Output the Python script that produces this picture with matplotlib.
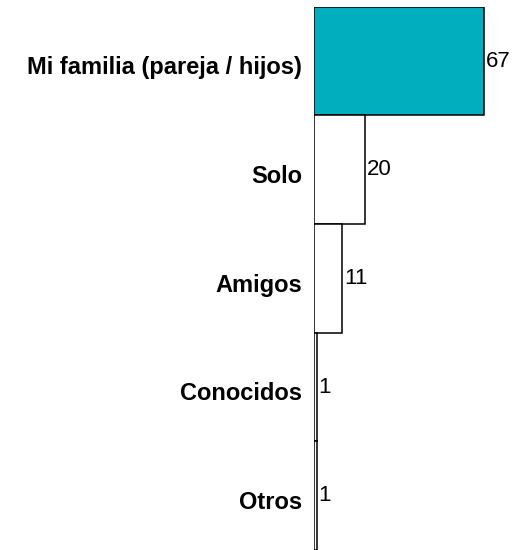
import matplotlib.pyplot as plt

plt.rcParams['font.family'] = ['Liberation Sans', 'DejaVu Sans']

categorias = ["Mi familia (pareja / hijos)", "Solo", "Amigos", "Conocidos", "Otros"]
valores = [67, 20, 11, 1, 1]
colores = ["#00AEBE", "white", "white", "white", "white"]

fig = plt.figure(figsize=(5.13, 5.5), dpi=100)
ax = fig.add_axes([0.6127, 0.0, 0.3873, 0.9878])

pos = list(range(len(categorias)))
ax.barh(pos, valores, height=1.0, color=colores, edgecolor="black", linewidth=1.1)

ax.set_xlim(0, 78.5)
ax.set_ylim(len(categorias) - 0.5, -0.5)
ax.axis("off")

# etiquetas de valores
for y, v in zip(pos, valores):
    ax.annotate(str(v), (v, y), xytext=(1.2, 0), textcoords="offset points",
                ha="left", va="center", fontsize=16)

# etiquetas de categorias, un poco por debajo del centro
for y, c in zip(pos, categorias):
    ax.annotate(c, (0, y), xytext=(-9, -5), textcoords="offset points",
                ha="right", va="center", fontsize=17, fontweight="bold",
                annotation_clip=False)

fig.savefig("out.png", dpi=100)
